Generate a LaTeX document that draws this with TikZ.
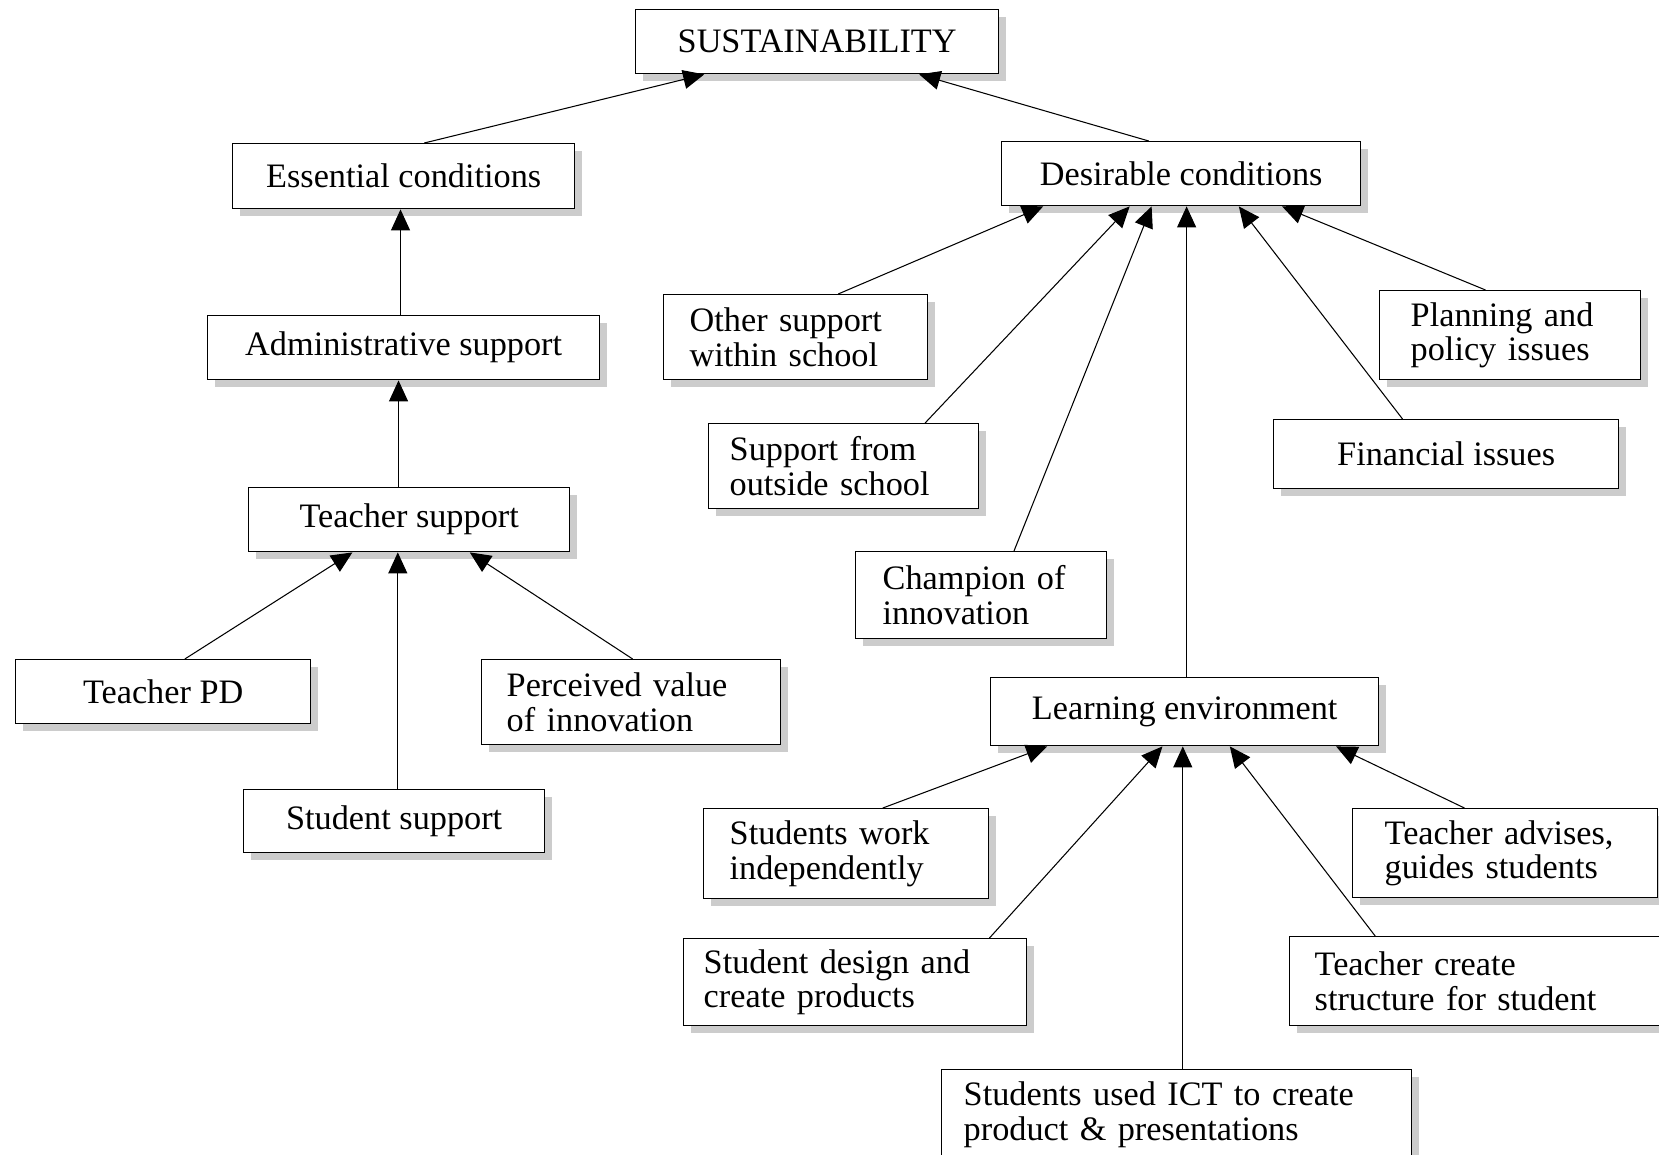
\documentclass[tikz,border=0pt]{standalone}
\usepackage{fontspec}
\setmainfont{Liberation Serif}
\usetikzlibrary{calc,shadows,arrows.meta}

% connector from a point on the top edge of one box to a point on the bottom edge of another
\newcommand\conn[4]{\draw[arr] ($(#1.north west)!#2!(#1.north east)$) -- ($(#3.south west)!#4!(#3.south east)$);}
% vertical connector rising from the top edge of one box to the bottom edge of another
\newcommand\vconn[3]{\path ($(#1.north west)!#2!(#1.north east)$) coordinate (vtmp); \draw[arr] (vtmp) -- (vtmp |- #3.south);}

\begin{document}
\begin{tikzpicture}[x=0.02cm, y=-0.02cm,
  box/.style={draw, line width=0.8pt, fill=white, anchor=north west,
    font=\fontsize{19.5}{19.5}\selectfont,
    drop shadow={shadow xshift=0.15cm, shadow yshift=-0.15cm, fill=black!20, opacity=1}},
  one/.style={box, align=center, inner xsep=0pt},
  two/.style={box, align=left},
  arr/.style={line width=0.6pt, -{Triangle[length=0.42cm, width=0.38cm]}}]
\useasboundingbox (0,0) rectangle (1659,1154);
\clip (0,0) rectangle (1659,1154);
\fill[white] (0,0) rectangle (1659,1154);

% top of the hierarchy
\node[one, minimum width=7.26cm, minimum height=1.28cm] (sus) at (635,9) {SUSTAINABILITY};
\node[one, minimum width=6.84cm, minimum height=1.30cm] (ess) at (232,143) {Essential conditions};
\node[one, minimum width=7.18cm, minimum height=1.28cm] (des) at (1001,141) {Desirable conditions};

% essential branch
\node[one, minimum width=7.84cm, minimum height=1.28cm] (adm) at (207,315) {Administrative support};
\node[one, minimum width=6.42cm, minimum height=1.28cm] (ts) at (248,487) {Teacher support};
\node[one, minimum width=5.90cm, minimum height=1.28cm] (pd) at (15,659) {Teacher PD};
\node[two, inner xsep=0.50cm, text width=4.98cm, minimum height=1.70cm] (per) at (481,659) {Perceived value\\of innovation};
\node[one, minimum width=6.02cm, minimum height=1.26cm] (ss) at (243,789) {Student support};

% desirable branch
\node[two, inner xsep=0.52cm, text width=4.24cm, minimum height=1.70cm] (oth) at (663,294) {Other support\\within school};
\node[two, inner xsep=0.62cm, text width=3.98cm, minimum height=1.78cm] (pla) at (1379,290) {Planning and\\policy issues};
\node[two, inner xsep=0.42cm, text width=4.56cm, minimum height=1.70cm] (sfo) at (708,423) {Support from\\outside school};
\node[one, minimum width=6.90cm, minimum height=1.38cm] (fin) at (1273,419) {Financial issues};
\node[two, inner xsep=0.54cm, text width=3.94cm, minimum height=1.74cm] (cha) at (855,551) {Champion of\\innovation};
\node[one, minimum width=7.76cm, minimum height=1.36cm] (le) at (990,677) {Learning environment};

% learning environment branch
\node[two, inner xsep=0.52cm, text width=4.66cm, minimum height=1.80cm] (swi) at (703,808) {Students work\\independently};
\node[two, inner xsep=0.64cm, text width=4.82cm, minimum height=1.78cm] (tad) at (1352,808) {Teacher advises,\\guides students};
\node[two, inner xsep=0.40cm, text width=6.06cm, minimum height=1.74cm] (sdc) at (683,938) {Student design and\\create products};
\node[two, inner xsep=0.50cm, text width=6.60cm, minimum height=1.78cm] (tcs) at (1289,936) {Teacher create\\structure for student};
\node[two, inner xsep=0.44cm, text width=8.52cm, minimum height=1.80cm] (ict) at (941,1069) {Students used ICT to create\\product \& presentations};

% connectors
\conn{ess}{0.56}{sus}{0.19}
\conn{des}{0.41}{sus}{0.78}
\vconn{adm}{0.492}{ess}
\vconn{ts}{0.467}{adm}
\conn{pd}{0.573}{ts}{0.324}
\vconn{ss}{0.512}{ts}
\conn{per}{0.505}{ts}{0.688}

\conn{oth}{0.66}{des}{0.117}
\conn{sfo}{0.80}{des}{0.357}
\conn{cha}{0.63}{des}{0.418}
\vconn{le}{0.505}{des}
\conn{fin}{0.374}{des}{0.66}
\conn{pla}{0.406}{des}{0.78}

\conn{swi}{0.628}{le}{0.147}
\conn{sdc}{0.89}{le}{0.443}
\vconn{ict}{0.513}{le}
\conn{tcs}{0.226}{le}{0.616}
\conn{tad}{0.367}{le}{0.889}
\end{tikzpicture}
\end{document}
